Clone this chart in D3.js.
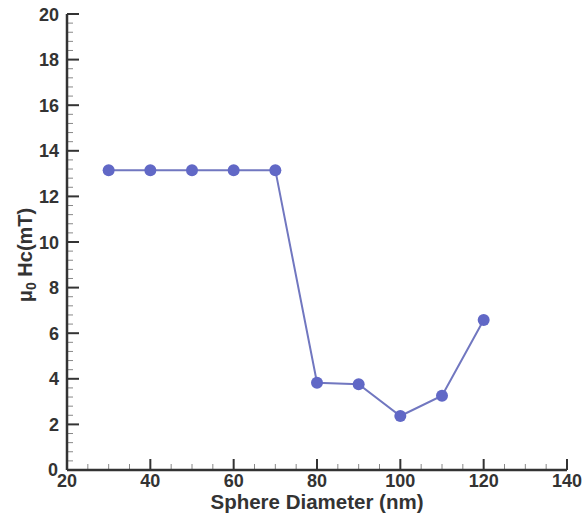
<!DOCTYPE html>
<html>
<head>
<meta charset="utf-8">
<script src="https://cdn.jsdelivr.net/npm/d3@7"></script>
<style>
	body { margin: 0; background: #fff; }
	text { font-family: "Liberation Sans", Arial, sans-serif; font-weight: bold; fill: #333; }
</style>
</head>
<body>
<div id="chart"></div>
<script>
// data
var diameters = [30, 40, 50, 60, 70, 80, 90, 100, 110, 120];
var coercivity = [13.15, 13.15, 13.15, 13.15, 13.15, 3.83, 3.76, 2.37, 3.26, 6.58];
var xTicks = [20, 40, 60, 80, 100, 120, 140];
var yTicks = [0, 2, 4, 6, 8, 10, 12, 14, 16, 18, 20];

// magic numbers
var margin = {top: 14, right: 17, bottom: 46, left: 67},
	width = 584 - margin.left - margin.right,
	height = 516 - margin.top - margin.bottom;

var svg = d3.select("#chart").append("svg")
		.attr("width", 584)
		.attr("height", 516)
	.append("g")
		.attr("transform", "translate(" + margin.left + "," + margin.top + ")");

var x = d3.scaleLinear().domain([20, 140]).range([0, width]);
var y = d3.scaleLinear().domain([0, 20]).range([height, 0]);

var axisColor = "#333";

// minor ticks
svg.append("g").selectAll("line.xminor")
		.data(d3.range(20, 140.1, 5).filter(function(d){ return d % 20 != 0; }))
	.enter().append("line")
		.attr("x1", function(d){ return x(d); })
		.attr("x2", function(d){ return x(d); })
		.attr("y1", height).attr("y2", height - 6)
		.attr("stroke", "#888").attr("stroke-width", 1);

svg.append("g").selectAll("line.yminor")
		.data(d3.range(0, 20.01, 0.4).filter(function(d){ return Math.abs(d / 2 - Math.round(d / 2)) > 0.01; }))
	.enter().append("line")
		.attr("y1", function(d){ return y(d); })
		.attr("y2", function(d){ return y(d); })
		.attr("x1", 0).attr("x2", 6)
		.attr("stroke", "#888").attr("stroke-width", 1);

// major ticks
svg.append("g").selectAll("line.xmajor")
		.data(xTicks)
	.enter().append("line")
		.attr("x1", function(d){ return x(d); })
		.attr("x2", function(d){ return x(d); })
		.attr("y1", height).attr("y2", height - 11)
		.attr("stroke", axisColor).attr("stroke-width", 2);

svg.append("g").selectAll("line.ymajor")
		.data(yTicks)
	.enter().append("line")
		.attr("y1", function(d){ return y(d); })
		.attr("y2", function(d){ return y(d); })
		.attr("x1", 0).attr("x2", 12)
		.attr("stroke", axisColor).attr("stroke-width", 2);

// axis lines
svg.append("line")
		.attr("x1", 0).attr("x2", width)
		.attr("y1", height).attr("y2", height)
		.attr("stroke", axisColor).attr("stroke-width", 2.5);
svg.append("line")
		.attr("x1", 0).attr("x2", 0)
		.attr("y1", 0).attr("y2", height)
		.attr("stroke", axisColor).attr("stroke-width", 2.5);

// tick labels
svg.append("g").selectAll("text.xlab")
		.data(xTicks)
	.enter().append("text")
		.attr("x", function(d){ return x(d); })
		.attr("y", height + 17)
		.attr("text-anchor", "middle")
		.style("font-size", "18px")
		.text(function(d){ return d; });

svg.append("g").selectAll("text.ylab")
		.data(yTicks)
	.enter().append("text")
		.attr("x", function(d){ return d == 0 ? -9 : -8; })
		.attr("y", function(d){ return d == 0 ? y(d) + 6 : y(d) + 6.5; })
		.attr("text-anchor", "end")
		.style("font-size", "18px")
		.text(function(d){ return d; });

// axis titles
svg.append("text")
		.attr("x", width / 2)
		.attr("y", height + 39)
		.attr("text-anchor", "middle")
		.style("font-size", "20.5px")
		.text("Sphere Diameter (nm)");

var ytitle = svg.append("text")
		.attr("transform", "translate(-35," + (height / 2 + 13) + ") rotate(-90)")
		.attr("text-anchor", "middle")
		.style("font-size", "20px");
ytitle.append("tspan").text("μ");
ytitle.append("tspan").attr("dy", 4).style("font-size", "14px").text("0");
ytitle.append("tspan").attr("dy", -4).text(" Hc(mT)");

// series
var pts = diameters.map(function(d, i){ return [d, coercivity[i]]; });

var line = d3.line()
		.x(function(d){ return x(d[0]); })
		.y(function(d){ return y(d[1]); });

svg.append("path")
		.datum(pts)
		.attr("d", line)
		.attr("fill", "none")
		.attr("stroke", "#7177c0")
		.attr("stroke-width", 2);

svg.selectAll(".dot")
		.data(pts)
	.enter().append("circle")
		.attr("class", "dot")
		.attr("cx", function(d){ return x(d[0]); })
		.attr("cy", function(d){ return y(d[1]); })
		.attr("r", 6)
		.attr("fill", "#6168c6");
</script>
</body>
</html>
